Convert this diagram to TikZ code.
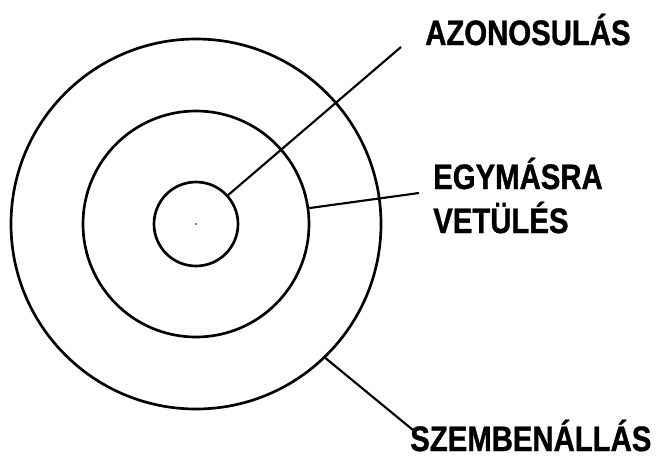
\documentclass[tikz,border=0pt]{standalone}
\usepackage{fontspec}
\newfontfamily\lblfont{Liberation Sans Bold}[FakeStretch=0.83,FakeBold=1]
\usetikzlibrary{calc}
\tikzset{ring/.style={draw,circle,line width=2pt,inner sep=0pt},
    lbl/.style={anchor=base west,inner sep=0pt,align=left,
        font=\lblfont\fontsize{26.5}{33}\selectfont},
    link/.style={line width=1.6pt}}

\begin{document}
\begin{tikzpicture}[x=0.75pt,y=0.75pt,yscale=-1,xscale=1]
\path[use as bounding box] (0,0) rectangle (663,457);

%Circles
\node[ring,minimum size=63pt] (inner) at (196,224) {};
\node[ring,minimum size=169.5pt] (middle) at (196,224) {};
\node[ring,minimum size=277.5pt] (outer) at (196,224) {};
\fill (inner.center) circle (0.8);

%Labels
\node[lbl] (azon) at (425,45) {AZONOSULÁS};
\node[lbl] (egym) at (433,233) {EGYMÁSRA\\VETÜLÉS};
\node[lbl] (szemb) at (410,451) {SZEMBENÁLLÁS};

%Lines
\draw[link] (inner.42) -- ($(azon.base west)+(-24,2)$);
\draw[link] (middle.8) -- ($(egym.base west)+(-14,-40)$);
\draw[link] (outer.-46) -- ($(szemb.base west)+(3,-21)$);

\end{tikzpicture}
\end{document}
